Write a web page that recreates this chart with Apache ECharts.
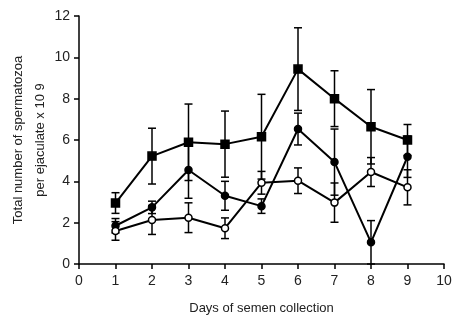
<!DOCTYPE html>
<html>
<head>
<meta charset="UTF-8">
<title>spermatozoa</title>
<script src="https://cdn.jsdelivr.net/npm/echarts@6/dist/echarts.min.js"></script>
<style>
  body, html { margin: 0; padding: 0; background: #fff; }
  #chart { width: 454px; height: 317px; }
</style>
</head>
<body>
<div id="chart"></div>
<script>
var days = [1, 2, 3, 4, 5, 6, 7, 8, 9];
// filled squares
var sqMean = [2.95, 5.22, 5.89, 5.8, 6.16, 9.43, 8.0, 6.64, 6.0];
var sqErr  = [0.5, 1.35, 1.85, 1.6, 2.05, 2.0, 1.35, 1.8, 0.75];
// filled circles
var fcMean = [1.85, 2.74, 4.55, 3.3, 2.8, 6.53, 4.93, 1.05, 5.19];
var fcErr  = [0.35, 0.3, 1.37, 0.7, 0.35, 0.77, 1.6, 1.05, 1.0];
// open circles
var ocMean = [1.6, 2.13, 2.24, 1.73, 3.93, 4.03, 2.97, 4.45, 3.71];
var ocErr  = [0.45, 0.7, 0.72, 0.5, 0.55, 0.62, 0.95, 0.7, 0.85];

var chart = echarts.init(document.getElementById('chart'), null, {renderer: 'canvas'});

function pairs(mean) {
    return days.map(function (d, i) { return [d, mean[i]]; });
}
function errData(mean, err) {
    return days.map(function (d, i) { return [d, mean[i] - err[i], mean[i] + err[i]]; });
}
function errRender(params, api) {
    var lo = api.coord([api.value(0), api.value(1)]);
    var hi = api.coord([api.value(0), api.value(2)]);
    var w = 4;
    var st = {stroke: '#000', lineWidth: 1.5};
    return {
        type: 'group',
        children: [
            {type: 'line', shape: {x1: hi[0], y1: hi[1], x2: lo[0], y2: lo[1]}, style: st},
            {type: 'line', shape: {x1: hi[0] - w, y1: hi[1], x2: hi[0] + w, y2: hi[1]}, style: st},
            {type: 'line', shape: {x1: lo[0] - w, y1: lo[1], x2: lo[0] + w, y2: lo[1]}, style: st}
        ]
    };
}
function errSeries(mean, err) {
    return {
        type: 'custom', renderItem: errRender, data: errData(mean, err),
        encode: {x: 0, y: [1, 2]}, z: 1, silent: true
    };
}
function lineSeries(mean, symbol, fill, size) {
    return {
        type: 'line', data: pairs(mean), symbol: symbol, symbolSize: size,
        lineStyle: {color: '#000', width: 2},
        itemStyle: {color: fill, borderColor: '#000', borderWidth: 1.5},
        z: 3, silent: true
    };
}

chart.setOption({
    animation: false,
    grid: {left: 79, right: 10, top: 16, bottom: 53, containLabel: false, outerBoundsMode: 'none'},
    xAxis: {
        type: 'value', min: 0, max: 10, interval: 1,
        name: 'Days of semen collection', nameLocation: 'middle', nameGap: 38,
        nameTextStyle: {color: '#222', fontSize: 13, fontFamily: 'Liberation Sans'},
        axisLine: {lineStyle: {color: '#000', width: 1.5}},
        axisTick: {show: true, length: 5, lineStyle: {color: '#000', width: 1.5}},
        axisLabel: {color: '#222', fontSize: 14, fontFamily: 'Liberation Sans', margin: 10},
        splitLine: {show: false}
    },
    yAxis: {
        type: 'value', min: 0, max: 12, interval: 2,
        name: 'Total number of spermatozoa\nper ejaculate x 10 9', nameLocation: 'middle', nameGap: 28,
        nameMoveOverlap: false,
        nameTextStyle: {color: '#222', fontSize: 13, fontFamily: 'Liberation Sans', lineHeight: 22},
        axisLine: {lineStyle: {color: '#000', width: 1.5}},
        axisTick: {show: true, length: 5, lineStyle: {color: '#000', width: 1.5}},
        axisLabel: {color: '#222', fontSize: 14, fontFamily: 'Liberation Sans', margin: 9},
        splitLine: {show: false}
    },
    series: [
        errSeries(sqMean, sqErr),
        errSeries(fcMean, fcErr),
        errSeries(ocMean, ocErr),
        lineSeries(sqMean, 'rect', '#000', 8),
        lineSeries(fcMean, 'circle', '#000', 7),
        lineSeries(ocMean, 'circle', '#fff', 7)
    ]
});
</script>
</body>
</html>
